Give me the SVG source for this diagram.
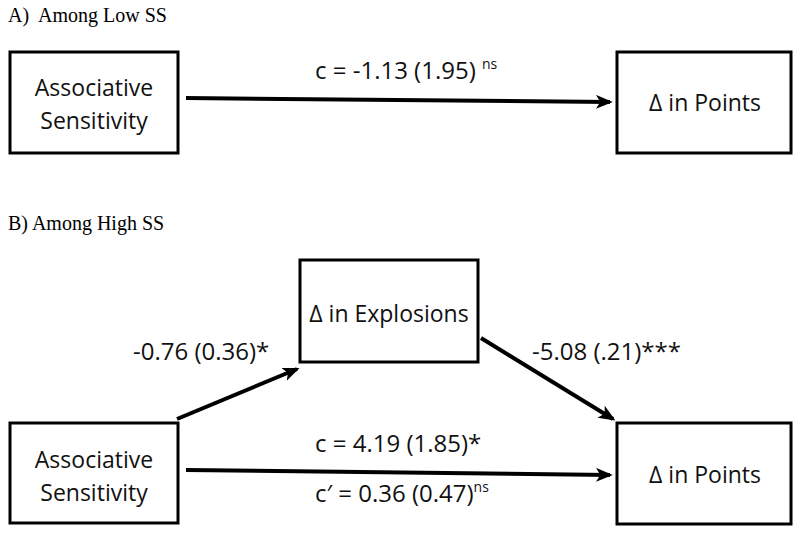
<svg xmlns="http://www.w3.org/2000/svg" width="800" height="534" viewBox="0 0 800 534">
<defs>
<style>
.box{fill:#fff;stroke:#000;stroke-width:3}
.lbl{font-family:"Open Sans","Liberation Sans",sans-serif;font-size:24px;fill:#111}
.node{font-family:"Open Sans","Liberation Sans",sans-serif;font-size:23px;fill:#111;text-anchor:middle}
.hdr{font-family:"Liberation Serif",serif;font-size:20px;fill:#000}
.edge{stroke:#000;stroke-width:4;fill:none;marker-end:url(#ah)}
.sup{font-size:14px}
</style>
<marker id="ah" viewBox="0 0 12 10" refX="10" refY="5" markerWidth="4.2" markerHeight="3.6" orient="auto" markerUnits="strokeWidth">
<path d="M0,0 L12,5 L0,10 L3,5 Z" fill="#000"/>
</marker>
</defs>
<rect width="800" height="534" fill="#fff"/>
<text class="hdr" x="8" y="22" xml:space="preserve">A)  Among Low SS</text>
<text class="hdr" x="8" y="230">B) Among High SS</text>
<g id="connectors">
<line class="edge" x1="186" y1="98" x2="610" y2="102"/>
<line class="edge" x1="177" y1="419" x2="297" y2="369"/>
<line class="edge" x1="481" y1="338" x2="613" y2="419"/>
<line class="edge" x1="186" y1="470" x2="610" y2="475"/>
</g>
<g id="labels">
<text class="lbl" x="315" y="79">c = -1.13 (1.95) <tspan class="sup" dy="-10">ns</tspan></text>
<text class="lbl" x="133" y="360">-0.76 (0.36)*</text>
<text class="lbl" x="532" y="360">-5.08 (.21)***</text>
<text class="lbl" x="315" y="452">c = 4.19 (1.85)*</text>
<text class="lbl" x="315" y="502">c′ = 0.36 (0.47)<tspan class="sup" dy="-10">ns</tspan></text>
</g>
<g id="a-sensitivity">
<rect class="box" x="10" y="52" width="168" height="101"/>
<text class="node" x="94" y="96">Associative</text>
<text class="node" x="94" y="129">Sensitivity</text>
</g>
<g id="a-points">
<rect class="box" x="617" y="52" width="174" height="101"/>
<text class="node" x="705" y="111">Δ in Points</text>
</g>
<g id="b-explosions">
<rect class="box" x="300" y="260" width="178" height="102"/>
<text class="node" x="389" y="322">Δ in Explosions</text>
</g>
<g id="b-sensitivity">
<rect class="box" x="10" y="423" width="168" height="100"/>
<text class="node" x="94" y="468">Associative</text>
<text class="node" x="94" y="501">Sensitivity</text>
</g>
<g id="b-points">
<rect class="box" x="617" y="423" width="174" height="101"/>
<text class="node" x="705" y="483">Δ in Points</text>
</g>
</svg>
